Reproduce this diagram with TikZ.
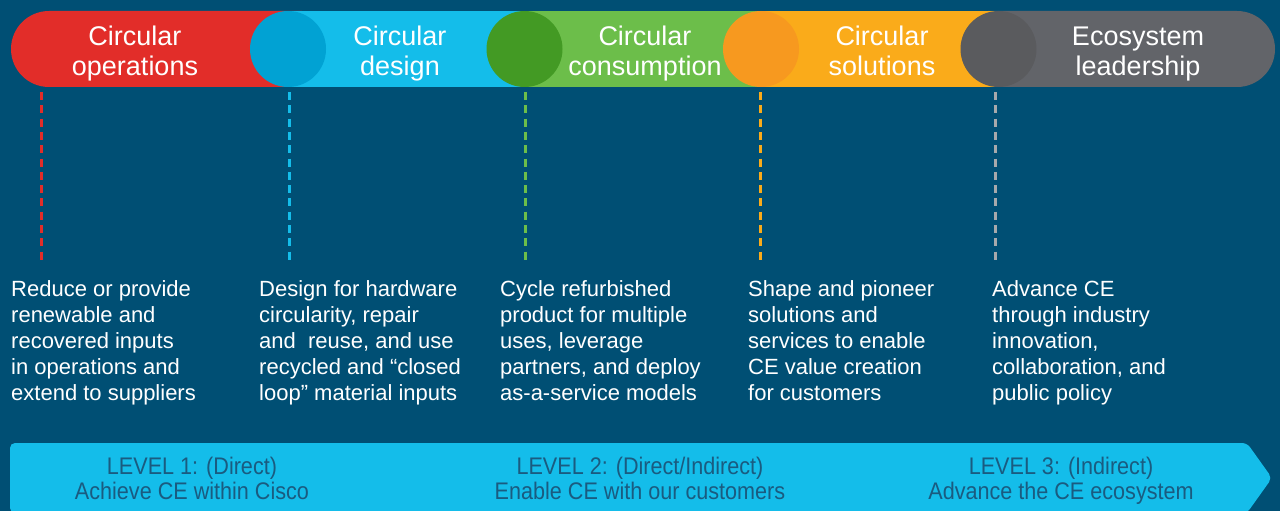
\documentclass[tikz,border=0pt]{standalone}
\usepackage{fontspec}
\setmainfont{Liberation Sans}
\newfontfamily\levelfont[FakeStretch=0.9]{Liberation Sans}
\usetikzlibrary{positioning, calc}
\usepackage{xcolor}

\definecolor{bgblue}{HTML}{004F74}
\definecolor{opsred}{HTML}{E22D29}
\definecolor{designblue}{HTML}{14BDEA}
\definecolor{designdark}{HTML}{01A2D3}
\definecolor{consgreen}{HTML}{6CBE4A}
\definecolor{consdark}{HTML}{439A24}
\definecolor{solyellow}{HTML}{FAAB1A}
\definecolor{soldark}{HTML}{F7991F}
\definecolor{ecogray}{HTML}{626469}
\definecolor{ecodark}{HTML}{5A5B5E}
\definecolor{ecoline}{HTML}{A7A9AC}
\definecolor{leveltext}{HTML}{1A5B80}

\begin{document}
\begin{tikzpicture}[x=1pt, y=-1pt,
  title/.style={text=white, align=center, anchor=base, inner sep=0, font=\fontsize{27}{29}\selectfont},
  desc/.style={text=white, align=left, anchor=base west, inner sep=0, font=\fontsize{22}{25.8}\selectfont},
  level/.style={text=leveltext, align=center, anchor=base, inner sep=0, font=\levelfont\fontsize{24}{25}\selectfont},
  guide/.style={line width=3pt, dash pattern=on 8pt off 5.3pt},
  joint/.style={circle, minimum size=76pt, inner sep=0}]
  \useasboundingbox (0,0) rectangle (1280,511);
  \fill[bgblue] (0,0) rectangle (1280,511);

  % the band of five stages
  \fill[opsred, rounded corners=38] (11,11) rectangle (340,87);
  \fill[ecogray, rounded corners=38] (950,11) rectangle (1275,87);
  \fill[designblue] (288,11) rectangle (524.5,87);
  \fill[consgreen] (524.5,11) rectangle (761,87);
  \fill[solyellow] (761,11) rectangle (998.5,87);

  \node[joint, fill=designdark] (j1) at (288,49) {};
  \node[joint, fill=consdark] (j2) at (524.5,49) {};
  \node[joint, fill=soldark] (j3) at (761,49) {};
  \node[joint, fill=ecodark] (j4) at (998.5,49) {};

  % base is the last line of each label
  \node[title] (ops) at (135,75) {Circular\\operations};
  \node[title] (design) at (400,75) {Circular\\design};
  \node[title] (cons) at (645,75) {Circular\\consumption};
  \node[title] (sol) at (882,75) {Circular\\solutions};
  \node[title] (eco) at (1138,75) {Ecosystem\\leadership};

  % descriptions under each stage
  \node[desc] (d1) at (11,400) {Reduce or provide\\renewable and\\recovered inputs\\in operations and\\extend to suppliers};
  \node[desc] (d2) at (259,400) {Design for hardware\\circularity, repair\\and~ reuse, and use\\recycled and “closed\\loop” material inputs};
  \node[desc] (d3) at (500,400) {Cycle refurbished\\product for multiple\\uses, leverage\\partners, and deploy\\as-a-service models};
  \node[desc] (d4) at (748,400) {Shape and pioneer\\solutions and\\services to enable\\CE value creation\\for customers};
  \node[desc] (d5) at (992,400) {Advance CE\\through industry\\innovation,\\collaboration, and\\public policy};

  \coordinate (g1a) at (41,92);    \coordinate (g1b) at (41,261);
  \coordinate (g2a) at (289,92);   \coordinate (g2b) at (289,261);
  \coordinate (g3a) at (525,92);   \coordinate (g3b) at (525,261);
  \coordinate (g4a) at (760,92);   \coordinate (g4b) at (760,261);
  \coordinate (g5a) at (995,92);   \coordinate (g5b) at (995,261);

  \draw[guide, opsred] (g1a) -- (g1b);
  \draw[guide, designblue] (g2a) -- (g2b);
  \draw[guide, consgreen] (g3a) -- (g3b);
  \draw[guide, solyellow] (g4a) -- (g4b);
  \draw[guide, ecoline] (g5a) -- (g5b);

  % level arrow
  \fill[designblue, rounded corners=5] (10,443) -- (1247,443) -- (1272,478) -- (1247,513) -- (10,513) -- cycle;

  \node[level] (lvl1) at (192,499) {LEVEL 1: (Direct)\\Achieve CE within Cisco};
  \node[level] (lvl2) at (640,499) {LEVEL 2: (Direct/Indirect)\\Enable CE with our customers};
  \node[level] (lvl3) at (1061,499) {LEVEL 3: (Indirect)\\Advance the CE ecosystem};
\end{tikzpicture}
\end{document}
